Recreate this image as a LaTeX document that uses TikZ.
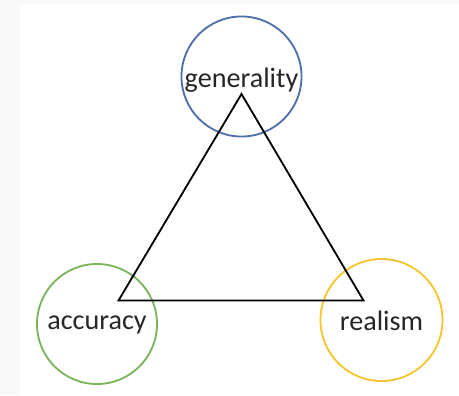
\documentclass[tikz,border=0pt]{standalone}
\usepackage{fontspec}
\setmainfont{Carlito}
\usepackage{tikz}
\usetikzlibrary{positioning}

\definecolor{genblue}{HTML}{4F6FAA}
\definecolor{accgreen}{HTML}{7AB55C}
\definecolor{realgold}{HTML}{F5C52E}

\begin{document}
\begin{tikzpicture}[
    x=0.025cm,
    y=-0.025cm,
    ring/.style={circle, draw, line width=1.3pt, minimum size=3cm, inner sep=0pt},
    edge/.style={black, line width=1.3pt, line join=miter},
    lab/.style={font=\fontsize{20}{24}\selectfont, text=black!85}
  ]
    \fill[white] (0,0) rectangle (459,395);
    \fill[gray!5] (0,0) rectangle (20,395);
    \fill[gray!5] (20,0) rectangle (459,4);
    \useasboundingbox (0,0) rectangle (459,395);
    \node[ring, genblue] (gen) at (241.5,76.5) {};
    \node[ring, accgreen] (acc) at (97,324) {};
    \node[ring, realgold, minimum size=3.05cm] (real) at (381.5,320) {};
    \node[lab] (genlab) at (241.5,80) {generality};
    \node[lab] (acclab) at (97,325) {accuracy};
    \node[lab] (reallab) at (381.5,320.5) {realism};
    \coordinate (top) at (241.5,94);
    \coordinate (left) at (118.5,300.5);
    \coordinate (right) at (363.5,300.5);
    \draw[edge] (top) -- (left) -- (right) -- cycle;
  \end{tikzpicture}
\end{document}
